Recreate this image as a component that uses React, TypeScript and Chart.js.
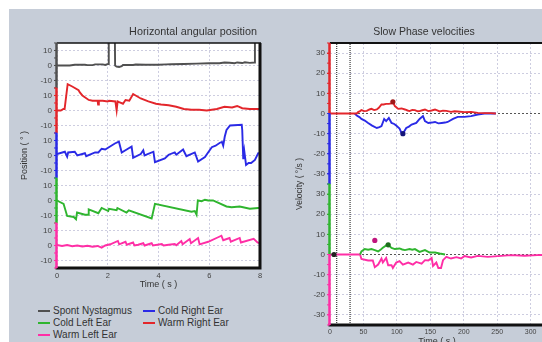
import React, { useEffect, useRef } from "react";
import { Chart, registerables } from "chart.js";

Chart.register(...registerables);

const FONT = "'Liberation Sans', Arial, sans-serif";

// ---------------- series names / colours ----------------
const seriesNames = ["Spont Nystagmus", "Cold Right Ear", "Cold Left Ear", "Warm Right Ear", "Warm Left Ear"];
const seriesColors = ["#505050", "#2a2ae6", "#2fb52f", "#e3262b", "#ff2ea6"];

// ---------------- left chart: Horizontal angular position ----------------
const spontT = [0, 0.5, 0.7, 0.8, 1.1, 1.2, 1.4, 1.5, 1.8, 1.9, 2.02, 2.04, 2.27, 2.29, 2.35, 2.45, 2.55, 2.6, 3.0, 3.1, 3.5, 4.0, 4.3, 4.5, 5.0, 5.5, 6.0, 6.4, 6.6, 6.8, 7.0, 7.1, 7.3, 7.4, 7.6, 7.78, 7.8, 8.0];
const spontV = [0, 0, 0.5, 0.5, 0.5, 0.2, 0.2, 0.7, 0.7, 0.3, 1, 40, 40, 0, -0.8, -1, -0.5, 0.3, 0.3, 0.6, 0.5, 0.5, 0.7, 0.8, 1, 1.2, 1.5, 1.5, 2, 1.8, 1.5, 2, 1.6, 2.1, 1.7, 2, 40, 40];

const warmRightT = [0, 0.15, 0.25, 0.3, 0.42, 0.6, 0.85, 0.9, 1.0, 1.25, 1.4, 1.6, 1.62, 1.65, 1.8, 2.0, 2.05, 2.3, 2.35, 2.39, 2.45, 2.6, 2.7, 2.85, 3.0, 3.1, 3.3, 3.6, 3.9, 4.1, 4.4, 4.7, 5.0, 5.3, 5.6, 5.9, 6.1, 6.3, 6.6, 6.9, 7.1, 7.3, 7.6, 8.0];
const warmRightV = [0, 0, 1, 1, 17.5, 16, 13.5, 12, 10, 7, 6.5, 6.5, 4, 6.5, 6.5, 6, 6.5, 6, 0, 6, 5.5, 4.5, 7, 6.5, 11, 10, 8, 6, 4.5, 4, 3.5, 2.5, 1, 0.5, 0.5, 0, 0.5, 1, 2.5, 2, 3, 1.5, 1, 1];

const coldRightT = [0, 0.31, 0.4, 0.44, 0.7, 0.8, 1.1, 1.15, 1.5, 1.63, 1.76, 1.9, 2.28, 2.44, 2.55, 2.94, 3.0, 3.3, 3.4, 3.45, 3.8, 3.86, 4.25, 4.4, 4.64, 4.7, 4.97, 5.1, 5.43, 5.56, 5.83, 6.1, 6.25, 6.42, 6.5, 6.55, 6.61, 6.68, 6.82, 7.28, 7.3, 7.34, 7.38, 7.45, 7.55, 7.65, 7.8, 7.93, 8.0];
const coldRightV = [1, 2.5, -0.8, 2, 2.5, 0, 1.5, -0.5, 2, 2, 4.5, 4, 8, 9.2, 2, 6, -1.5, 1, 3.5, 0, 2.5, -4.5, -2, 0.5, 2, 0.5, 4, -0.5, 2, -4, -1, 5.5, 6.5, 8.5, 9, 6.5, 12.5, 17, 20, 20.5, 17, -2.5, 3, -6.3, -5, -5, -3, 1.5, 1.5];

const coldLeftT = [0, 0.26, 0.4, 0.66, 0.75, 0.79, 1.1, 1.23, 1.25, 1.63, 1.76, 2.02, 2.05, 2.35, 2.38, 2.74, 2.83, 3.73, 3.86, 5.3, 5.43, 5.5, 5.55, 5.7, 5.83, 5.96, 6.15, 6.68, 6.88, 7.2, 7.6, 7.93, 8.0];
const coldLeftV = [0, -2.3, -10.3, -11, -12.5, -8, -9.5, -9.5, -6, -8.5, -5, -7, -5.5, -6.5, -5, -8, -6.5, -12, -2.3, -7.5, -7, -9.5, 0, -0.5, 0.5, 0, 0, -4, -4.5, -4, -5.5, -5, -5];

const warmLeftT = [0, 0.2, 0.4, 0.6, 0.8, 1.0, 1.2, 1.4, 1.6, 1.76, 1.9, 2.1, 2.4, 2.45, 2.7, 2.75, 3.0, 3.05, 3.2, 3.4, 3.45, 3.73, 3.78, 4.13, 4.2, 4.4, 4.64, 4.7, 4.9, 4.95, 5.23, 5.28, 5.56, 5.62, 5.96, 6.35, 6.48, 6.55, 6.8, 6.85, 7.2, 7.25, 7.75, 7.9, 8.0];
const warmLeftV = [0.3, -0.3, 0.3, -0.5, 0, -0.7, -0.2, -0.8, -0.3, -1.4, 0, 0.8, 3, 0.8, 2.5, 0.5, 2, 0, 0.5, 1.5, 0, 1.5, 0, 1, 0, 0.5, 1, 0.2, 3, 0.8, 4.3, 1.5, 5, 0.8, 2.5, 5.5, 6.5, 3.5, 5, 2.5, 5, 2, 4.5, 2, 1.5];

// stacked band centres (offset of each trace on the shared axis)
const posBandSpont = 60;
const posBandWarmRight = 30;
const posBandColdRight = 0;
const posBandColdLeft = -30;
const posBandWarmLeft = -60;
const posTickValues = [70, 60, 50, 40, 30, 20, 10, 0, -10, -20, -30, -40, -50, -60, -70];
const timeTicksLeft = [0, 2, 4, 6, 8];

// ---------------- right chart: Slow Phase velocities ----------------
const spvWarmRightT = [0, 40, 42, 45, 47, 51, 55, 59, 62, 66, 70, 73, 77, 80, 84, 88, 92, 94, 97, 102, 107, 112, 116, 119, 123, 127, 131, 134, 138, 142, 147, 152, 157, 164, 169, 174, 181, 186, 191, 201, 211, 221, 231, 240, 248];
const spvWarmRightV = [0, 0, 0.7, 1.2, 1.7, 1.2, 1.3, 2.0, 2.3, 1.7, 2, 2.8, 4.5, 4.5, 4.8, 4.8, 5, 5.8, 3.7, 2.3, 2.5, 2, 1.5, 1.2, 1.8, 1.7, 1.1, 1.2, 1.6, 2, 1.2, 1.5, 2, 1, 1.4, 1.3, 0.8, 1.1, 1, 0.7, 0.8, 0.3, 0.2, 0.2, 0];

const spvColdRightT = [37, 40, 44, 47, 52, 57, 63, 70, 74, 77, 81, 84, 88, 92, 96, 99, 104, 107, 109, 114, 118, 122, 129, 134, 139, 142, 147, 152, 157, 162, 167, 172, 176, 184, 191, 201, 211, 221, 231, 248];
const spvColdRightV = [0, -1, -1.8, -2.7, -3.5, -4.7, -6, -7.2, -6.8, -6.3, -2.7, -3.8, -2.2, -4.7, -5.2, -6, -7.5, -9.7, -10, -7.2, -6.5, -5.5, -4.7, -2.7, -1.3, -3.8, -4.7, -4.5, -4.2, -4.9, -4.7, -4.5, -4.2, -2.7, -1.7, -1.7, -1.3, -0.5, 0, 0];

const spvColdLeftT = [45, 47, 52, 57, 62, 67, 72, 76, 79, 84, 87, 92, 97, 104, 108, 112, 119, 123, 127, 134, 142, 149, 157, 164, 172];
const spvColdLeftV = [0, 1.5, 2.7, 2.4, 2.7, 2.2, 1.5, 2.5, 3.3, 4.5, 4.8, 3.3, 2.7, 3, 2.5, 2.2, 2.7, 2.4, 2.7, 1.3, 2.2, 1, 1, 0.5, 0];

const spvWarmLeftT = [0, 45, 47, 57, 64, 67, 72, 77, 79, 84, 87, 92, 94, 99, 104, 109, 117, 124, 129, 137, 142, 147, 152, 154, 159, 162, 166, 169, 174, 181, 189, 196, 201, 211, 221, 236, 251, 271, 291, 316, 340];
const spvWarmLeftV = [0, 0, -2.2, -3, -3, -6.3, -5, -2, -4, -1.7, -5.3, -5.3, -6.7, -4, -3.3, -5, -4, -5, -3.7, -4.5, -2.8, -3, -1.7, -5.7, -4, -6.7, -6.7, -2.8, -1.2, -2, -1.3, -2, -0.8, -1.5, -0.7, -1.2, -0.8, -0.3, -0.6, -0.2, -0.3];

// peak markers: [warm right, cold right, cold left, warm left, spont]
const peakT = [94, 109, 87, 67, 6];
const peakV = [5.8, -10, 4.8, 7, 0];

// stimulation window markers (s)
const windowLines = [10, 30];

const velBandRight = 35;
const velBandLeft = -35;
const velTickValues = [65, 55, 45, 35, 25, 15, 5, -5, -15, -25, -35, -45, -55, -65];
const timeTicksRight = [0, 50, 100, 150, 200, 250, 300];

// ---------------- helpers ----------------
const pts = (ts: number[], vs: number[], off: number) => ts.map((t, i) => ({ x: t, y: vs[i] + off }));

const posLabel = (v: number) => {
  const c = Math.round(v / 30) * 30;
  return String(v - c);
};
const velLabel = (v: number) => {
  const c = v > 0 ? velBandRight : velBandLeft;
  return String(v - c);
};

const framePlugin = {
  id: "frame",
  beforeDraw(chart: any) {
    const { ctx, chartArea: a } = chart;
    ctx.save();
    ctx.fillStyle = "#ffffff";
    ctx.fillRect(a.left, a.top, a.right - a.left, a.bottom - a.top);
    ctx.restore();
  },
  afterDatasetsDraw(chart: any, _args: any, opts: any) {
    const { ctx, chartArea: a, scales } = chart;
    const y = scales.y;
    ctx.save();
    ctx.strokeStyle = "#111";
    ctx.lineWidth = opts.topWidth;
    ctx.beginPath();
    ctx.moveTo(a.left, a.top);
    ctx.lineTo(a.right + 1, a.top);
    ctx.stroke();
    ctx.lineWidth = 3;
    ctx.beginPath();
    ctx.moveTo(a.right, a.top);
    ctx.lineTo(a.right, a.bottom + 1.5);
    ctx.moveTo(a.left - 1.5, a.bottom);
    ctx.lineTo(a.right + 1.5, a.bottom);
    ctx.stroke();
    for (const b of opts.bands) {
      const y1 = y.getPixelForValue(b.to);
      const y2 = y.getPixelForValue(b.from);
      ctx.strokeStyle = b.color;
      ctx.lineWidth = 2.5;
      ctx.beginPath();
      ctx.moveTo(a.left - 0.5, y1);
      ctx.lineTo(a.left - 0.5, y2);
      ctx.stroke();
      ctx.lineWidth = 1;
      ctx.beginPath();
      for (let v = b.from; v <= b.to; v += opts.minorStep) {
        const p = y.getPixelForValue(v);
        ctx.moveTo(a.left - 3, p);
        ctx.lineTo(a.left, p);
      }
      ctx.stroke();
    }
    ctx.restore();
  },
};

const lineDs = (label: string, data: any[], color: string) => ({
  type: "line" as const,
  label,
  data,
  borderColor: color,
  backgroundColor: color,
  borderWidth: 1.9,
  pointRadius: 0,
  tension: 0,
  fill: false,
});

const markerDs = (x: number, y: number, color: string) => ({
  type: "scatter" as const,
  label: "peak",
  data: [{ x, y }],
  borderColor: color,
  backgroundColor: color,
  pointRadius: 2.6,
  pointBorderWidth: 0,
  showLine: false,
});

// invisible axis used only to reserve room on the right of a plot
const padAxis = (w: number) => ({
  type: "linear",
  position: "right",
  display: true,
  ticks: { display: false },
  grid: { display: false, drawTicks: false },
  border: { display: false },
  title: { display: false },
  afterFit: (s: any) => {
    s.width = w;
  },
});

const GRID = "#cdcde0";

export default function App() {
  const leftRef = useRef<HTMLCanvasElement | null>(null);
  const rightRef = useRef<HTMLCanvasElement | null>(null);

  useEffect(() => {
    Chart.defaults.font.family = FONT;
    const [cSpont, cColdRight, cColdLeft, cWarmRight, cWarmLeft] = seriesColors;

    const left = new Chart(leftRef.current as HTMLCanvasElement, {
      type: "line",
      data: {
        datasets: [
          lineDs(seriesNames[0], pts(spontT, spontV, posBandSpont), cSpont),
          lineDs(seriesNames[3], pts(warmRightT, warmRightV, posBandWarmRight), cWarmRight),
          lineDs(seriesNames[1], pts(coldRightT, coldRightV, posBandColdRight), cColdRight),
          lineDs(seriesNames[2], pts(coldLeftT, coldLeftV, posBandColdLeft), cColdLeft),
          lineDs(seriesNames[4], pts(warmLeftT, warmLeftV, posBandWarmLeft), cWarmLeft),
        ] as any,
      },
      options: {
        responsive: false,
        animation: false,
        devicePixelRatio: 1,
        layout: { padding: 0 },
        plugins: {
          legend: { display: false },
          tooltip: { enabled: false },
          title: {
            display: true,
            text: "Horizontal angular position",
            color: "#333",
            font: { family: FONT, size: 10.8, weight: "normal" },
            padding: { top: 26, bottom: 4 },
          },
          frame: {
            topWidth: 1.5,
            minorStep: 5,
            bands: [
              { from: 45, to: 75, color: cSpont },
              { from: 15, to: 45, color: cWarmRight },
              { from: -15, to: 15, color: cColdRight },
              { from: -45, to: -15, color: cColdLeft },
              { from: -75, to: -45, color: cWarmLeft },
            ],
          },
        } as any,
        scales: {
          x: {
            type: "linear",
            min: 0,
            max: 8,
            afterBuildTicks: (s: any) => {
              s.ticks = timeTicksLeft.map((v) => ({ value: v }));
            },
            ticks: { color: "#444", font: { size: 7.5 }, padding: 3 },
            grid: { color: GRID, drawTicks: false },
            border: { display: false, dash: [2, 2] },
            title: {
              display: true,
              text: "Time ( s )",
              color: "#333",
              font: { size: 9 },
              padding: { top: 0, bottom: 9.6 },
            },
            afterFit: (s: any) => {
              s.height = 32;
            },
          },
          y: {
            type: "linear",
            min: -75,
            max: 75,
            afterBuildTicks: (s: any) => {
              s.ticks = posTickValues.map((v) => ({ value: v }));
            },
            ticks: {
              color: "#444",
              font: { size: 8 },
              padding: 2,
              callback: (v: any) => posLabel(Number(v)),
            },
            grid: {
              color: GRID,
              tickLength: 3,
              tickColor: (c: any) => {
                const v = c.tick ? c.tick.value : 0;
                if (v > 45) return cSpont;
                if (v > 15) return cWarmRight;
                if (v > -15) return cColdRight;
                if (v > -45) return cColdLeft;
                return cWarmLeft;
              },
            },
            border: { display: false, dash: [2, 2] },
            title: {
              display: true,
              text: "Position ( ° )",
              color: "#333",
              font: { size: 9 },
              padding: { top: 19.6, bottom: 0 },
            },
            afterFit: (s: any) => {
              s.width = 57;
            },
          },
          pad: padAxis(126),
        } as any,
      },
      plugins: [framePlugin as any],
    });

    const right = new Chart(rightRef.current as HTMLCanvasElement, {
      type: "line",
      data: {
        datasets: [
          markerDs(peakT[0], peakV[0] + velBandRight, "#a01818"),
          markerDs(peakT[1], peakV[1] + velBandRight, "#15157a"),
          markerDs(peakT[2], peakV[2] + velBandLeft, "#1d6e1d"),
          markerDs(peakT[3], peakV[3] + velBandLeft, "#c0157e"),
          markerDs(peakT[4], peakV[4] + velBandLeft, "#222222"),
          lineDs(seriesNames[3], pts(spvWarmRightT, spvWarmRightV, velBandRight), cWarmRight),
          lineDs(seriesNames[1], pts(spvColdRightT, spvColdRightV, velBandRight), cColdRight),
          lineDs(seriesNames[2], pts(spvColdLeftT, spvColdLeftV, velBandLeft), cColdLeft),
          lineDs(seriesNames[4], pts(spvWarmLeftT, spvWarmLeftV, velBandLeft), cWarmLeft),
          ...windowLines.map((t) => ({
            type: "line" as const,
            label: "window",
            data: [
              { x: t, y: -70 },
              { x: t, y: 70 },
            ],
            borderColor: "#3a3a3a",
            borderWidth: 1.2,
            borderDash: [1, 1],
            pointRadius: 0,
          })),
        ] as any,
      },
      options: {
        responsive: false,
        animation: false,
        devicePixelRatio: 1,
        layout: { padding: 0 },
        plugins: {
          legend: { display: false },
          tooltip: { enabled: false },
          title: {
            display: true,
            text: "Slow Phase velocities",
            color: "#333",
            font: { family: FONT, size: 10.5, weight: "normal" },
            padding: { top: 26, bottom: 4.4 },
          },
          frame: {
            topWidth: 2,
            minorStep: 5,
            bands: [
              { from: 35, to: 70, color: cWarmRight },
              { from: 0, to: 35, color: cColdRight },
              { from: -35, to: 0, color: cColdLeft },
              { from: -70, to: -35, color: cWarmLeft },
            ],
          },
        } as any,
        scales: {
          x: {
            type: "linear",
            min: 0,
            max: 320,
            afterBuildTicks: (s: any) => {
              s.ticks = timeTicksRight.map((v) => ({ value: v }));
            },
            ticks: { color: "#444", font: { size: 7 }, padding: 3 },
            grid: { color: GRID, drawTicks: false },
            border: { display: false, dash: [2, 2] },
            title: {
              display: true,
              text: "Time ( s )",
              color: "#333",
              font: { size: 9 },
              padding: { top: 0, bottom: 9.6 },
            },
            afterFit: (s: any) => {
              s.height = 32;
            },
          },
          y: {
            type: "linear",
            min: -70,
            max: 70,
            afterBuildTicks: (s: any) => {
              s.ticks = velTickValues.map((v) => ({ value: v }));
            },
            ticks: {
              color: "#444",
              font: { size: 8 },
              padding: 2,
              callback: (v: any) => velLabel(Number(v)),
            },
            grid: {
              color: (c: any) => {
                const v = c.tick ? c.tick.value : 0;
                return v === velBandRight || v === velBandLeft ? "#555" : GRID;
              },
              tickLength: 3,
              tickColor: (c: any) => {
                const v = c.tick ? c.tick.value : 0;
                if (v > 35) return cWarmRight;
                if (v > 0) return cColdRight;
                if (v > -35) return cColdLeft;
                return cWarmLeft;
              },
            },
            border: { display: false, dash: [2, 2] },
            title: {
              display: true,
              text: "Velocity ( °/s )",
              color: "#333",
              font: { size: 8.5 },
              padding: { top: 15, bottom: 0 },
            },
            afterFit: (s: any) => {
              s.width = 50;
            },
          },
          pad: padAxis(24),
        } as any,
      },
      plugins: [framePlugin as any],
    });

    return () => {
      left.destroy();
      right.destroy();
    };
  }, []);

  const legendOrder = [0, 1, 2, 3, 4];

  return (
    <div
      style={{
        position: "fixed",
        left: 0,
        top: 0,
        width: 542,
        height: 342,
        overflow: "hidden",
        background: "#ffffff",
        fontFamily: FONT,
      }}
    >
      <div style={{ position: "absolute", left: 9, top: 9, right: 0, bottom: 0, background: "#c6cdd8" }} />
      <canvas ref={leftRef} width={386} height={300} style={{ position: "absolute", left: 0, top: 0 }} />
      <canvas ref={rightRef} width={288} height={357} style={{ position: "absolute", left: 280, top: 0 }} />
      <div
        style={{
          position: "absolute",
          left: 38,
          top: 305,
          display: "grid",
          gridTemplateColumns: "105px 120px",
          gridAutoRows: "12px",
          fontSize: 10,
          lineHeight: "12px",
          color: "#333",
        }}
      >
        {legendOrder.map((i) => (
          <div key={i} style={{ whiteSpace: "nowrap", display: "flex", alignItems: "center" }}>
            <span
              style={{ display: "inline-block", width: 12, height: 2, background: seriesColors[i], marginRight: 3 }}
            />
            <span>{seriesNames[i]}</span>
          </div>
        ))}
      </div>
    </div>
  );
}
